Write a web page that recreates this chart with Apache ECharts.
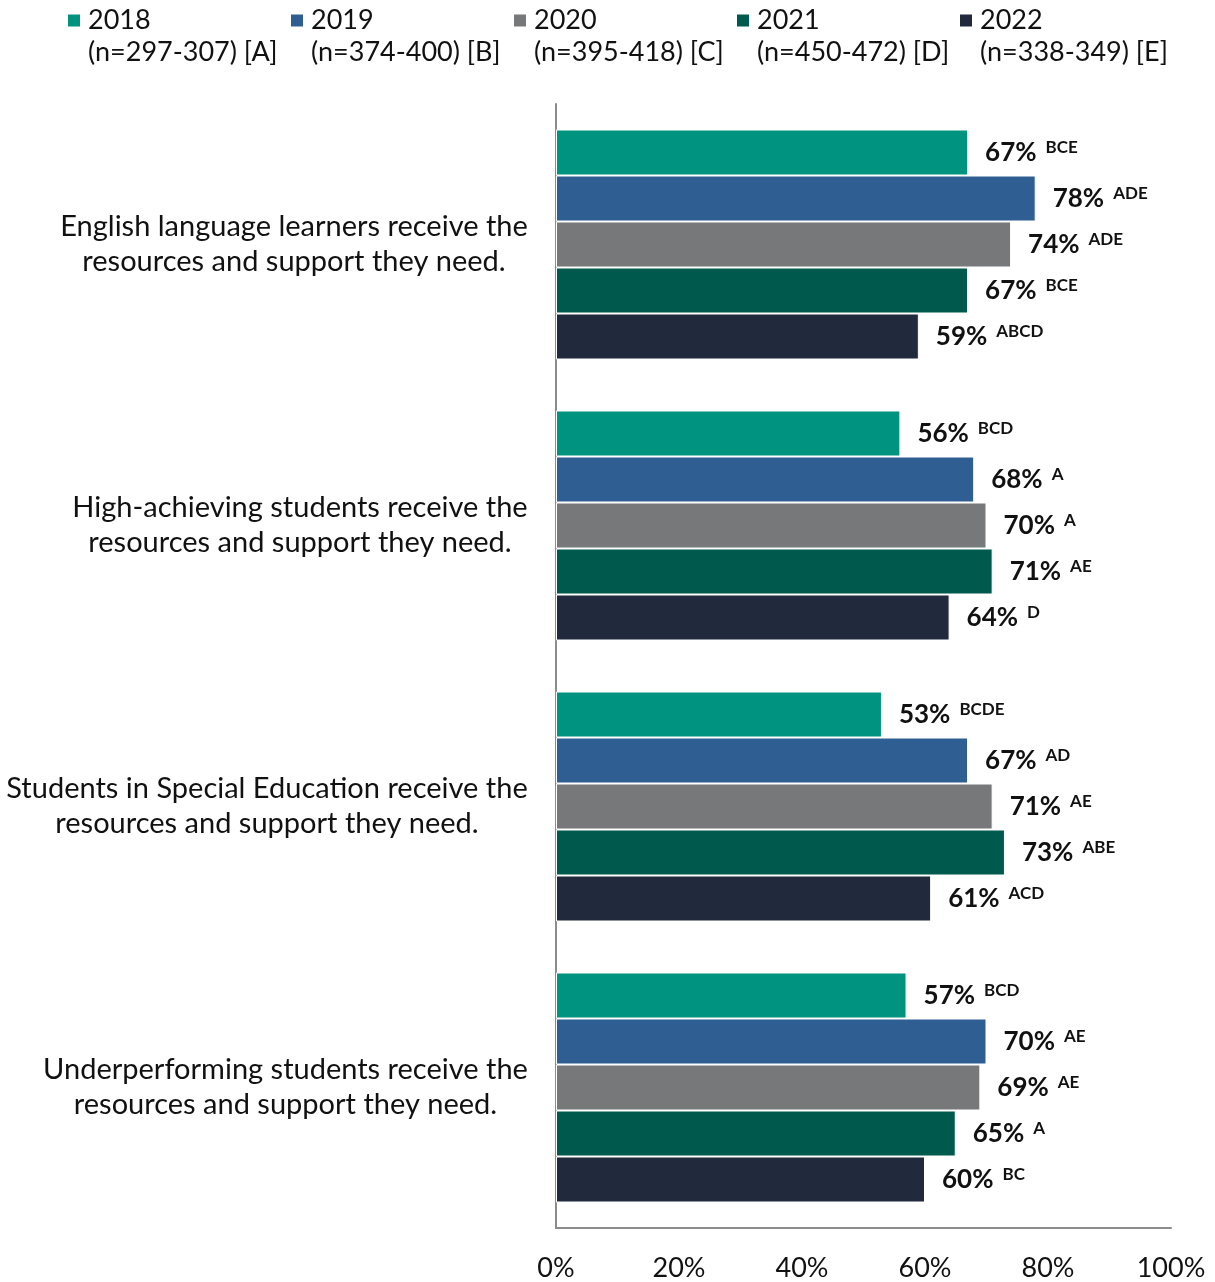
<!DOCTYPE html>
<html><head><meta charset="utf-8">
<script src="https://cdn.jsdelivr.net/npm/echarts@6/dist/echarts.min.js"></script>
<style>html,body{margin:0;padding:0;background:#fff}#c{width:1215px;height:1282px}</style>
</head><body><div id="c"></div>
<script>
const categories = [
  "English language learners receive the\nresources and support they need.",
  "High-achieving students receive the\nresources and support they need.",
  "Students in Special Education receive the\nresources and support they need.",
  "Underperforming students receive the\nresources and support they need."
];
const seriesNames = ["2018", "2019", "2020", "2021", "2022"];
const seriesSub = ["(n=297-307) [A]", "(n=374-400) [B]", "(n=395-418) [C]", "(n=450-472) [D]", "(n=338-349) [E]"];
const colors = ["#00937F", "#2F5F92", "#77787A", "#00594D", "#21293D"];
const v2018 = [67, 56, 53, 57];
const v2019 = [78, 68, 67, 70];
const v2020 = [74, 70, 71, 69];
const v2021 = [67, 71, 73, 65];
const v2022 = [59, 64, 61, 60];
const s2018 = ["BCE", "BCD", "BCDE", "BCD"];
const s2019 = ["ADE", "A", "AD", "AE"];
const s2020 = ["ADE", "A", "AE", "AE"];
const s2021 = ["BCE", "AE", "ABE", "A"];
const s2022 = ["ABCD", "D", "ACD", "BC"];
const xTicks = ["0%", "20%", "40%", "60%", "80%", "100%"];

const values = [v2018, v2019, v2020, v2021, v2022];
const sups = [s2018, s2019, s2020, s2021, s2022];
const FONT = "Lato";
const CAT_SIZE = 29;

const cv = document.createElement('canvas').getContext('2d');
cv.font = CAT_SIZE + 'px ' + FONT;
const rich = {};
categories.forEach((c, i) => {
  const w = Math.max(...c.split('\n').map(l => cv.measureText(l).width));
  rich['c' + i] = {width: Math.ceil(w), align: 'center', fontSize: CAT_SIZE, fontFamily: FONT, color: '#111', lineHeight: 35};
});

const chart = echarts.init(document.getElementById('c'));
chart.setOption({
  animation: false,
  legend: {
    left: 63, top: -30,
    itemWidth: 12, itemHeight: 12, itemGap: 10,
    icon: 'rect',
    itemStyle: {borderWidth: 0},
    data: seriesNames,
    formatter: name => {
      const i = seriesNames.indexOf(name);
      return '{a|}\n{a|' + name + '}\n{a|' + seriesSub[i] + '}';
    },
    textStyle: {
      rich: {a: {fontSize: 27, fontFamily: FONT, color: '#111', lineHeight: 32, width: 193, padding: [0, 0, 0, 3]}}
    }
  },
  grid: {left: 556, right: 44, top: 104, bottom: 54, containLabel: false},
  xAxis: {
    type: 'value', min: 0, max: 100, interval: 20,
    axisLine: {show: true, lineStyle: {color: '#8c8c8c', width: 2}},
    axisTick: {show: false},
    splitLine: {show: false},
    axisLabel: {
      margin: 27, fontSize: 27, fontFamily: FONT, color: '#111',
      formatter: v => xTicks[v / 20]
    }
  },
  yAxis: {
    type: 'category', inverse: true, data: categories,
    axisLine: {show: true, lineStyle: {color: '#8c8c8c', width: 2}},
    axisTick: {show: false},
    axisLabel: {
      margin: 28, align: 'right',
      formatter: (val, idx) => val.split('\n').map(l => '{c' + idx + '|' + l + '}').join('\n'),
      rich: rich
    }
  },
  series: seriesNames.map((n, si) => ({
    name: n, type: 'bar',
    barWidth: 46, barGap: '0%', barCategoryGap: '18%',
    itemStyle: {color: colors[si], borderColor: '#fff', borderWidth: 1},
    data: values[si].map((v, ci) => ({value: v, sup: sups[si][ci]})),
    label: {
      show: true, position: 'right', distance: 17,
      formatter: p => '{v|' + p.value + '%}{s|' + p.data.sup + '}',
      rich: {
        v: {fontSize: 26, fontWeight: 'bold', fontFamily: FONT, color: '#111'},
        s: {fontSize: 17, fontWeight: 'bold', fontFamily: FONT, color: '#111', verticalAlign: 'top', padding: [0, 0, 10, 9]}
      }
    }
  }))
});
</script></body></html>
